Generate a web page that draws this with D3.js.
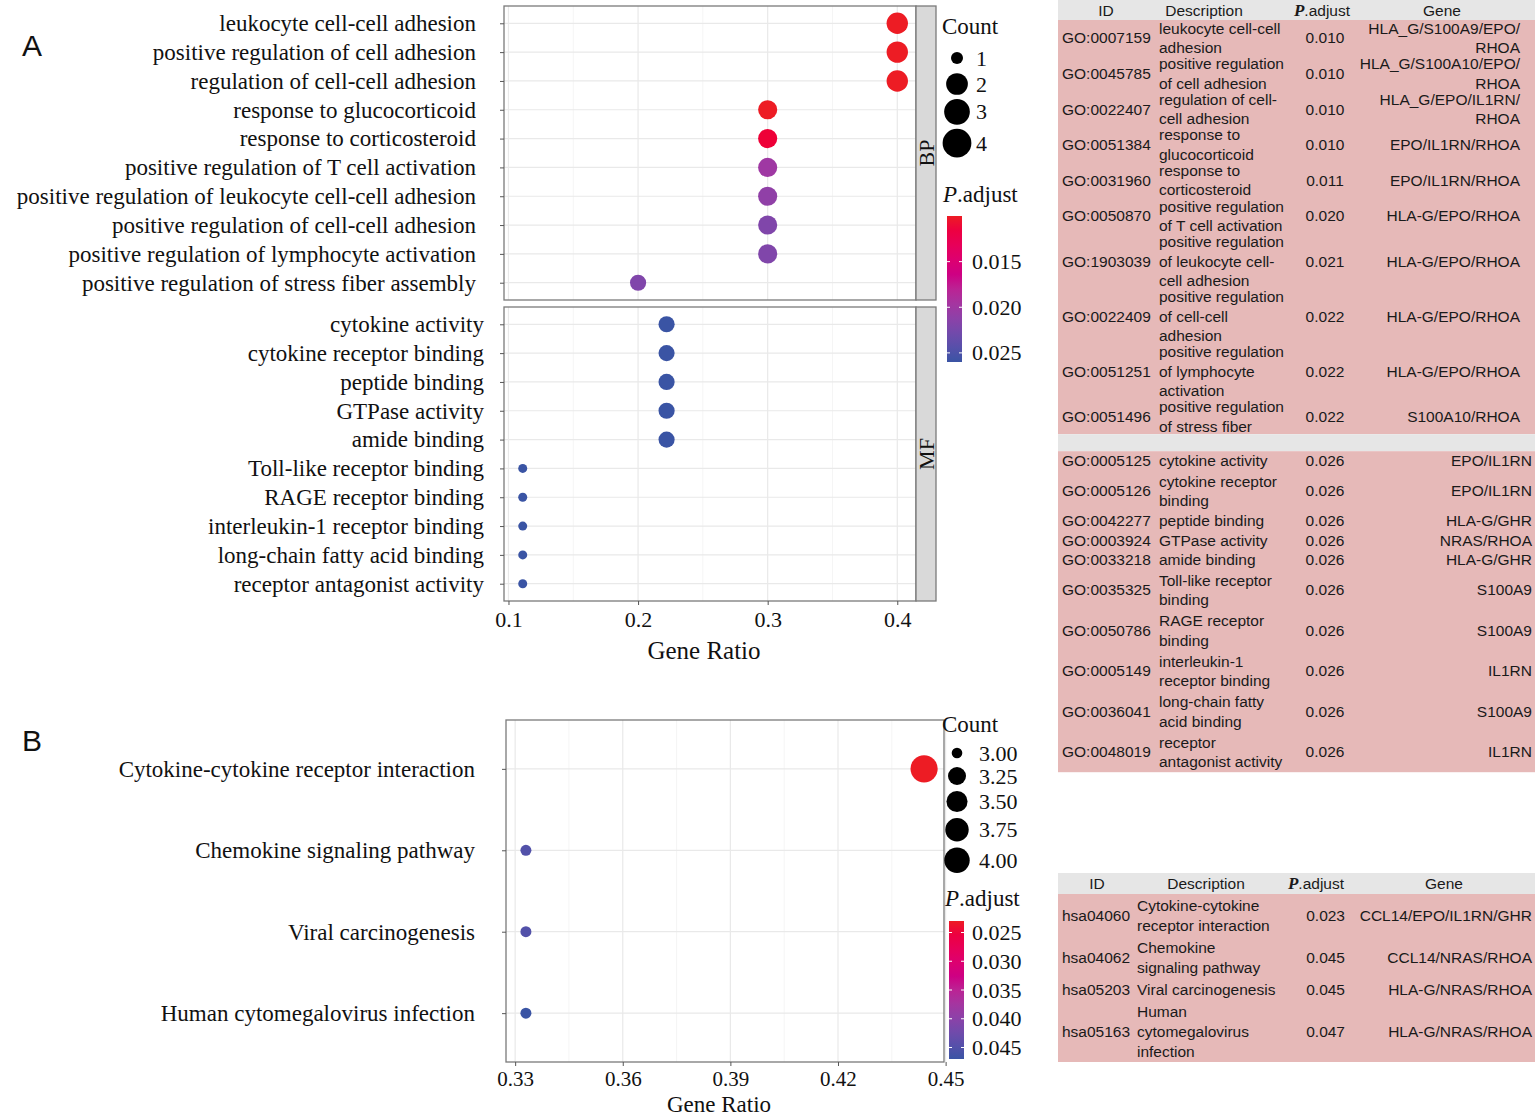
<!DOCTYPE html>
<html>
<head>
	<script src="https://cdn.jsdelivr.net/npm/d3@7"></script>
	<style>
		html, body {
			padding: 0;
			margin: 0;
			background: white;
		}
	</style>
</head>
<body>
	<script>
		var WIDTH = 1535, HEIGHT = 1117;

		// ~ ~ ~ DATA: GO enrichment (panel A) ~ ~ ~
		const BP_TERMS = [
			"leukocyte cell-cell adhesion", "positive regulation of cell adhesion",
			"regulation of cell-cell adhesion", "response to glucocorticoid",
			"response to corticosteroid", "positive regulation of T cell activation",
			"positive regulation of leukocyte cell-cell adhesion", "positive regulation of cell-cell adhesion",
			"positive regulation of lymphocyte activation", "positive regulation of stress fiber assembly"
		];
		const BP_RATIO = [0.4, 0.4, 0.4, 0.3, 0.3, 0.3, 0.3, 0.3, 0.3, 0.2];
		const BP_COUNT = [4, 4, 4, 3, 3, 3, 3, 3, 3, 2];
		const BP_PADJ = [0.010, 0.010, 0.010, 0.010, 0.011, 0.020, 0.021, 0.022, 0.022, 0.022];

		const MF_TERMS = [
			"cytokine activity", "cytokine receptor binding", "peptide binding", "GTPase activity",
			"amide binding", "Toll-like receptor binding", "RAGE receptor binding",
			"interleukin-1 receptor binding", "long-chain fatty acid binding", "receptor antagonist activity"
		];
		const MF_RATIO = [0.222, 0.222, 0.222, 0.222, 0.222, 0.111, 0.111, 0.111, 0.111, 0.111];
		const MF_COUNT = [2, 2, 2, 2, 2, 1, 1, 1, 1, 1];
		const MF_PADJ = [0.026, 0.026, 0.026, 0.026, 0.026, 0.026, 0.026, 0.026, 0.026, 0.026];

		// ~ ~ ~ DATA: KEGG enrichment (panel B) ~ ~ ~
		const KEGG_TERMS = [
			"Cytokine-cytokine receptor interaction", "Chemokine signaling pathway",
			"Viral carcinogenesis", "Human cytomegalovirus infection"
		];
		const KEGG_RATIO = [0.444, 0.333, 0.333, 0.333];
		const KEGG_COUNT = [4, 3, 3, 3];
		const KEGG_PADJ = [0.023, 0.045, 0.045, 0.047];

		// ~ ~ ~ AXIS / LEGEND BREAKS ~ ~ ~
		const TICKS_A = [0.1, 0.2, 0.3, 0.4];
		const TICKS_B = [0.33, 0.36, 0.39, 0.42, 0.45];
		const COUNT_BREAKS_A = [1, 2, 3, 4];
		const COUNT_BREAKS_B = [3.00, 3.25, 3.50, 3.75, 4.00];
		const PADJ_BREAKS_A = [0.015, 0.020, 0.025];
		const PADJ_BREAKS_B = [0.025, 0.030, 0.035, 0.040, 0.045];

		// ~ ~ ~ DATA: tables ("|" = line break in the cell) ~ ~ ~
		const BP_IDS = ["GO:0007159", "GO:0045785", "GO:0022407", "GO:0051384", "GO:0031960",
			"GO:0050870", "GO:1903039", "GO:0022409", "GO:0051251", "GO:0051496"];
		const BP_DESC = ["leukocyte cell-cell|adhesion", "positive regulation|of cell adhesion",
			"regulation of cell-|cell adhesion", "response to|glucocorticoid", "response to|corticosteroid",
			"positive regulation|of T cell activation", "positive regulation|of leukocyte cell-|cell adhesion",
			"positive regulation|of cell-cell|adhesion", "positive regulation|of lymphocyte|activation",
			"positive regulation|of stress fiber"];
		const BP_GENES = ["HLA_G/S100A9/EPO/|RHOA", "HLA_G/S100A10/EPO/|RHOA", "HLA_G/EPO/IL1RN/|RHOA",
			"EPO/IL1RN/RHOA", "EPO/IL1RN/RHOA", "HLA-G/EPO/RHOA", "HLA-G/EPO/RHOA", "HLA-G/EPO/RHOA",
			"HLA-G/EPO/RHOA", "S100A10/RHOA"];

		const MF_IDS = ["GO:0005125", "GO:0005126", "GO:0042277", "GO:0003924", "GO:0033218",
			"GO:0035325", "GO:0050786", "GO:0005149", "GO:0036041", "GO:0048019"];
		const MF_DESC = ["cytokine activity", "cytokine receptor|binding", "peptide binding", "GTPase activity",
			"amide binding", "Toll-like receptor|binding", "RAGE receptor|binding", "interleukin-1|receptor binding",
			"long-chain fatty|acid binding", "receptor|antagonist activity"];
		const MF_GENES = ["EPO/IL1RN", "EPO/IL1RN", "HLA-G/GHR", "NRAS/RHOA", "HLA-G/GHR",
			"S100A9", "S100A9", "IL1RN", "S100A9", "IL1RN"];

		const KEGG_IDS = ["hsa04060", "hsa04062", "hsa05203", "hsa05163"];
		const KEGG_DESC = ["Cytokine-cytokine|receptor interaction", "Chemokine|signaling pathway",
			"Viral carcinogenesis", "Human|cytomegalovirus|infection"];
		const KEGG_GENES = ["CCL14/EPO/IL1RN/GHR", "CCL14/NRAS/RHOA", "HLA-G/NRAS/RHOA", "HLA-G/NRAS/RHOA"];

		const TABLE_HEADERS = ["ID", "Description", "P.adjust", "Gene"];

		// ~ ~ ~ STYLE CONSTANTS ~ ~ ~
		const SERIF = '"Liberation Serif", "Times New Roman", serif';
		const SANS = '"Liberation Sans", Arial, sans-serif';
		const RED = "#ED1C24", BLUE = "#3A54A4";
		const PINK = "#E6B9B8", HEAD_GRAY = "#E6E6E6";
		const BORDER = "#7a7a7a";

		var svg = d3.select('body').append('svg')
			.attr('width', WIDTH)
			.attr('height', HEIGHT)
			.style('background-color', 'white');

		// ggplot-like helpers
		var expand = function(ext) {
			var pad = (ext[1] - ext[0]) * 0.05;
			return [ext[0] - pad, ext[1] + pad];
		};
		// area_pal style: radius grows with sqrt of rescaled value
		var sizeScale = function(domain, range) {
			var r = d3.scaleLinear().domain([0, 1]).range(range);
			return function(v) { return r(Math.sqrt((v - domain[0]) / (domain[1] - domain[0]))); };
		};

		// ~ ~ ~ DOT PANEL ~ ~ ~
		var drawPanel = function(p) {
			var y = d3.scalePoint().domain(p.terms).range([p.top, p.bottom]).padding(0.6);
			var x0 = p.x.range()[0], x1 = p.x.range()[1];
			var g = svg.append('g');
			var minor = d3.pairs(p.ticks).map(function(t) { return (t[0] + t[1]) / 2; });

			g.selectAll('line.minor').data(minor).enter().append('line')
				.attr('x1', p.x).attr('x2', p.x).attr('y1', p.top).attr('y2', p.bottom)
				.attr('stroke', '#f3f3f3').attr('stroke-width', 0.8);
			g.selectAll('line.majx').data(p.ticks).enter().append('line')
				.attr('x1', p.x).attr('x2', p.x).attr('y1', p.top).attr('y2', p.bottom)
				.attr('stroke', '#e9e9e9').attr('stroke-width', 1.2);
			g.selectAll('line.majy').data(p.terms).enter().append('line')
				.attr('x1', x0).attr('x2', x1).attr('y1', y).attr('y2', y)
				.attr('stroke', '#e9e9e9').attr('stroke-width', 1.2);

			g.selectAll('circle').data(d3.range(p.terms.length)).enter().append('circle')
				.attr('cx', function(i) { return p.x(p.ratio[i]); })
				.attr('cy', function(i) { return y(p.terms[i]); })
				.attr('r', function(i) { return p.size(p.count[i]); })
				.attr('fill', function(i) { return p.color(p.padj[i]); });

			g.append('rect')
				.attr('x', x0).attr('y', p.top).attr('width', x1 - x0).attr('height', p.bottom - p.top)
				.attr('fill', 'none').attr('stroke', BORDER).attr('stroke-width', 1.3);

			var ya = g.append('g').attr('transform', 'translate(' + x0 + ',0)')
				.call(d3.axisLeft(y).tickSize(4).tickSizeOuter(0).tickPadding(p.labelPad));
			ya.select('.domain').remove();
			ya.selectAll('line').attr('stroke', '#555');
			ya.selectAll('text').attr('font-family', SERIF).attr('font-size', 23).attr('fill', '#111');

			if (p.axis) {
				var xa = g.append('g').attr('transform', 'translate(0,' + p.bottom + ')')
					.call(d3.axisBottom(p.x).tickValues(p.ticks).tickFormat(p.fmt)
						.tickSize(4).tickSizeOuter(0).tickPadding(p.axisPad));
				xa.select('.domain').remove();
				xa.selectAll('line').attr('stroke', '#555');
				xa.selectAll('text').attr('font-family', SERIF).attr('font-size', p.tickFont).attr('fill', '#111');
				g.append('text')
					.attr('x', (x0 + x1) / 2 - 6).attr('y', p.titleY)
					.attr('text-anchor', 'middle').attr('font-family', SERIF).attr('font-size', p.titleFont)
					.attr('fill', '#111').text('Gene Ratio');
			}

			if (p.strip) {
				g.append('rect')
					.attr('x', x1).attr('y', p.top).attr('width', 20).attr('height', p.bottom - p.top)
					.attr('fill', '#d9d9d9').attr('stroke', BORDER).attr('stroke-width', 1.3);
				g.append('text')
					.attr('transform', 'translate(' + (x1 + 10) + ',' + ((p.top + p.bottom) / 2) + ') rotate(-90)')
					.attr('text-anchor', 'middle').attr('dy', '0.35em')
					.attr('font-family', SERIF).attr('font-size', 22).attr('fill', '#111')
					.text(p.strip);
			}
		};

		// ~ ~ ~ LEGENDS ~ ~ ~
		var drawSizeLegend = function(p) {
			svg.append('text').attr('x', p.x).attr('y', p.titleY)
				.attr('font-family', SERIF).attr('font-size', 23).attr('fill', '#111').text('Count');
			var cy = p.firstY, prevKey = null;
			p.breaks.forEach(function(v) {
				var r = p.size(v);
				var key = Math.max(p.keyMin, 2 * r + p.keyPad);
				if (prevKey !== null) cy += (prevKey + key) / 2;
				prevKey = key;
				svg.append('circle').attr('cx', p.cx).attr('cy', cy).attr('r', r).attr('fill', 'black');
				svg.append('text').attr('x', p.labelX).attr('y', cy + 7.5)
					.attr('font-family', SERIF).attr('font-size', 22).attr('fill', '#111')
					.text(p.fmt(v));
			});
		};

		var drawColorbar = function(p) {
			var t = svg.append('text').attr('x', p.x - 4).attr('y', p.titleY)
				.attr('font-family', SERIF).attr('font-size', 23).attr('fill', '#111');
			t.append('tspan').attr('font-style', 'italic').text('P');
			t.append('tspan').text('.adjust');

			var dom = p.color.domain();
			var by = d3.scaleLinear().domain(dom).range([p.top, p.bottom]);
			var grad = svg.append('defs').append('linearGradient')
				.attr('id', p.id).attr('x1', 0).attr('x2', 0).attr('y1', 0).attr('y2', 1);
			d3.range(0, 1.0001, 0.1).forEach(function(f) {
				grad.append('stop').attr('offset', f)
					.attr('stop-color', p.color(dom[0] + f * (dom[1] - dom[0])));
			});
			svg.append('rect').attr('x', p.x).attr('y', p.top)
				.attr('width', p.w).attr('height', p.bottom - p.top)
				.attr('fill', 'url(#' + p.id + ')');
			p.breaks.forEach(function(v) {
				[p.x, p.x + p.w - 3].forEach(function(tx) {
					svg.append('line').attr('x1', tx).attr('x2', tx + 3)
						.attr('y1', by(v)).attr('y2', by(v))
						.attr('stroke', 'white').attr('stroke-width', 1);
				});
				svg.append('text').attr('x', p.labelX).attr('y', by(v) + 7.5)
					.attr('font-family', SERIF).attr('font-size', 22).attr('fill', '#111')
					.text(d3.format('.3f')(v));
			});
		};

		// ~ ~ ~ PANEL A ~ ~ ~
		var xA = d3.scaleLinear().domain(expand(d3.extent(BP_RATIO.concat(MF_RATIO)))).range([504, 916]);
		var colorA = d3.scaleLinear().domain(d3.extent(BP_PADJ.concat(MF_PADJ)))
			.range([RED, BLUE]).interpolate(d3.interpolateHcl);
		var sizeA = sizeScale([1, 4], [4.5, 10.7]);

		drawPanel({ terms: BP_TERMS, ratio: BP_RATIO, count: BP_COUNT, padj: BP_PADJ,
			x: xA, top: 6, bottom: 300, size: sizeA, color: colorA, ticks: TICKS_A,
			labelPad: 24, strip: 'BP', axis: false });
		drawPanel({ terms: MF_TERMS, ratio: MF_RATIO, count: MF_COUNT, padj: MF_PADJ,
			x: xA, top: 307, bottom: 601, size: sizeA, color: colorA, ticks: TICKS_A,
			labelPad: 16, strip: 'MF', axis: true, fmt: d3.format('.1f'), axisPad: 6,
			tickFont: 22, titleY: 659, titleFont: 25 });

		drawSizeLegend({ x: 942, titleY: 34, firstY: 58, breaks: COUNT_BREAKS_A,
			size: sizeScale([1, 4], [6, 14.4]), cx: 957, labelX: 976, keyPad: 4, keyMin: 26,
			fmt: d3.format('d') });
		drawColorbar({ id: 'gradA', x: 947, w: 15, top: 216, bottom: 362, titleY: 202,
			color: colorA, breaks: PADJ_BREAKS_A, labelX: 972 });

		// ~ ~ ~ PANEL B ~ ~ ~
		var xB = d3.scaleLinear().domain(expand(d3.extent(KEGG_RATIO))).range([506, 944]);
		var colorB = d3.scaleLinear().domain(d3.extent(KEGG_PADJ))
			.range([RED, BLUE]).interpolate(d3.interpolateHcl);

		drawPanel({ terms: KEGG_TERMS, ratio: KEGG_RATIO, count: KEGG_COUNT, padj: KEGG_PADJ,
			x: xB, top: 720, bottom: 1062, size: sizeScale([3, 4], [5.5, 13.6]), color: colorB,
			ticks: TICKS_B, labelPad: 27, axis: true, fmt: d3.format('.2f'), axisPad: 5,
			tickFont: 21, titleY: 1112, titleFont: 23 });

		drawSizeLegend({ x: 942, titleY: 732, firstY: 753, breaks: COUNT_BREAKS_B,
			size: sizeScale([3, 4], [5.3, 12.7]), cx: 957, labelX: 979, keyPad: 6, keyMin: 22,
			fmt: d3.format('.2f') });
		drawColorbar({ id: 'gradB', x: 949, w: 15, top: 921, bottom: 1059, titleY: 906,
			color: colorB, breaks: PADJ_BREAKS_B, labelX: 972 });

		// panel letters
		svg.append('text').attr('x', 22).attr('y', 56)
			.attr('font-family', SANS).attr('font-size', 30).attr('fill', '#111').text('A');
		svg.append('text').attr('x', 22).attr('y', 751)
			.attr('font-family', SANS).attr('font-size', 30).attr('fill', '#111').text('B');

		// ~ ~ ~ TABLES ~ ~ ~
		var TABLE_X = 1058, TABLE_W = WIDTH - 1058;

		var tableText = function(x, y, anchor) {
			return svg.append('text').attr('x', x).attr('y', y).attr('text-anchor', anchor)
				.attr('font-family', SANS).attr('font-size', 15.5).attr('fill', '#1a1a1a');
		};

		var drawTable = function(t) {
			var y = t.top;
			if (t.headX) {
				svg.append('rect').attr('x', TABLE_X).attr('y', y)
					.attr('width', TABLE_W).attr('height', t.headH).attr('fill', HEAD_GRAY);
				TABLE_HEADERS.forEach(function(h, i) {
					var txt = tableText(t.headX[i], y + t.headH / 2 + 5.5, 'middle');
					if (h === 'P.adjust') {
						txt.append('tspan').attr('font-family', SERIF).attr('font-style', 'italic')
							.attr('font-weight', 'bold').attr('font-size', 17).text('P');
						txt.append('tspan').text('.adjust');
					}
					else
						txt.text(h);
				});
				y += t.headH;
			}
			var rows = t.ids.map(function(id, i) {
				var d = t.desc[i].split('|'), g = t.genes[i].split('|');
				return { id: id, desc: d, genes: g, p: d3.format('.3f')(t.padj[i]),
					h: Math.max(d.length, g.length) * t.rowLine + t.rowPad };
			});
			svg.append('rect').attr('x', TABLE_X).attr('y', y)
				.attr('width', TABLE_W).attr('height', d3.sum(rows, function(r) { return r.h; }))
				.attr('fill', PINK);
			rows.forEach(function(r) {
				var cy = y + r.h / 2;
				var put = function(lines, x, anchor) {
					lines.forEach(function(s, j) {
						tableText(x, cy + (j - (lines.length - 1) / 2) * t.textLine + 5.5, anchor).text(s);
					});
				};
				put([r.id], t.colX[0], 'start');
				put(r.desc, t.colX[1], 'start');
				put([r.p], t.colX[2], t.pAnchor);
				put(r.genes, t.colX[3], 'end');
				y += r.h;
			});
			return y;
		};

		var endBP = drawTable({ top: 0, headH: 20, headX: [1106, 1204, 1322, 1442],
			ids: BP_IDS, desc: BP_DESC, genes: BP_GENES, padj: BP_PADJ,
			colX: [1062, 1159, 1325, 1520], pAnchor: 'middle', rowLine: 19.4, rowPad: -3.2, textLine: 19.5 });
		// grey spacer row between BP and MF blocks
		svg.append('rect').attr('x', TABLE_X).attr('y', endBP)
			.attr('width', TABLE_W).attr('height', 17).attr('fill', HEAD_GRAY);
		drawTable({ top: endBP + 17, ids: MF_IDS, desc: MF_DESC, genes: MF_GENES, padj: MF_PADJ,
			colX: [1062, 1159, 1325, 1532], pAnchor: 'middle', rowLine: 21, rowPad: -1.5, textLine: 19.5 });
		drawTable({ top: 873, headH: 21, headX: [1097, 1206, 1316, 1444],
			ids: KEGG_IDS, desc: KEGG_DESC, genes: KEGG_GENES, padj: KEGG_PADJ,
			colX: [1062, 1137, 1345, 1532], pAnchor: 'end', rowLine: 20, rowPad: 2, textLine: 20 });
	</script>
</body>
</html>
